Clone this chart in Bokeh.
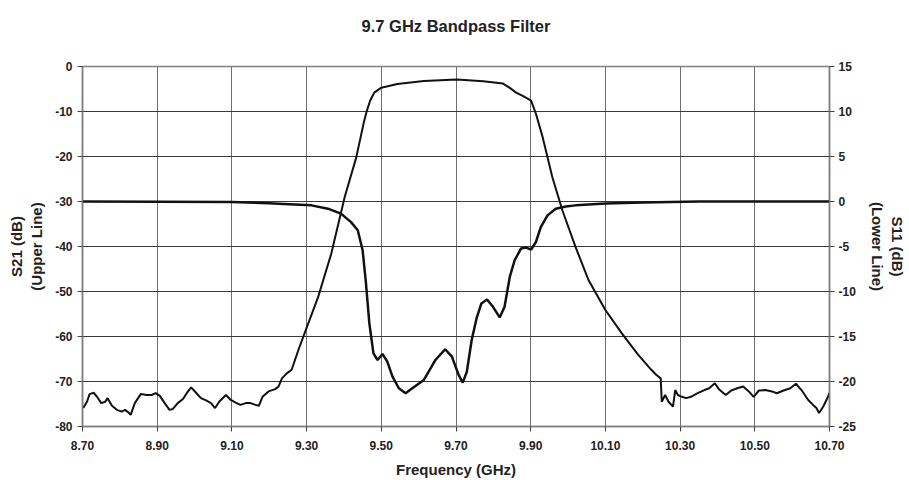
from bokeh.plotting import figure
from bokeh.models import Range1d, LinearAxis, FixedTicker, PrintfTickFormatter
from bokeh.embed import file_html
from bokeh.resources import INLINE

# ---------------- data ----------------
s21_freq = [8.702, 8.712, 8.719, 8.730, 8.739, 8.750, 8.761, 8.767, 8.779, 8.792,
            8.805, 8.814, 8.823, 8.829, 8.840, 8.856, 8.872, 8.885, 8.896, 8.907,
            8.920, 8.933, 8.942, 8.955, 8.969, 8.979, 8.991, 9.004, 9.017, 9.031,
            9.044, 9.055, 9.066, 9.084, 9.097, 9.110, 9.123, 9.137, 9.150, 9.163,
            9.172, 9.182, 9.198, 9.216, 9.225, 9.234, 9.247, 9.260, 9.278, 9.291,
            9.331, 9.366, 9.402, 9.433, 9.453, 9.460, 9.470, 9.481, 9.500, 9.543,
            9.614, 9.702, 9.773, 9.826, 9.845, 9.861, 9.880, 9.901, 9.914, 9.932,
            9.958, 9.985, 10.020, 10.055, 10.100, 10.144, 10.188, 10.223, 10.236, 10.248,
            10.251, 10.260, 10.269, 10.281, 10.287, 10.294, 10.305, 10.316, 10.329, 10.347,
            10.365, 10.378, 10.393, 10.404, 10.422, 10.437, 10.453, 10.469, 10.484, 10.497,
            10.511, 10.528, 10.546, 10.559, 10.577, 10.595, 10.610, 10.625, 10.643, 10.656,
            10.665, 10.672, 10.683, 10.696, 10.700]
s21_db = [-75.9, -74.5, -72.8, -72.5, -73.4, -74.8, -74.5, -73.7, -75.4, -76.3,
          -76.7, -76.3, -76.9, -77.4, -74.8, -72.8, -73.0, -73.0, -72.6, -73.2,
          -74.8, -76.3, -76.1, -74.8, -73.9, -72.6, -71.3, -72.5, -73.7, -74.2,
          -74.8, -75.9, -74.5, -73.0, -74.1, -74.7, -75.2, -74.8, -74.8, -75.2,
          -75.4, -73.4, -72.2, -71.7, -71.1, -69.3, -68.2, -67.4, -63.0, -60.1,
          -51.2, -41.6, -29.0, -20.2, -12.5, -10.2, -7.6, -5.8, -4.7, -3.9,
          -3.2, -2.9, -3.3, -3.8, -4.8, -5.8, -6.6, -7.6, -10.5, -15.7,
          -24.6, -32.0, -40.1, -47.5, -54.1, -59.3, -64.1, -67.4, -68.5, -69.3,
          -74.5, -73.0, -74.5, -75.6, -71.9, -73.0, -73.4, -73.7, -73.4, -72.6,
          -71.9, -71.5, -70.4, -71.7, -73.0, -72.0, -71.5, -71.1, -72.2, -73.4,
          -72.0, -71.9, -72.2, -72.6, -72.0, -71.5, -70.5, -71.9, -74.1, -75.2,
          -75.9, -77.0, -75.6, -73.4, -72.5]

s11_freq = [8.70, 8.90, 9.10, 9.20, 9.225, 9.313, 9.357, 9.392, 9.419, 9.437,
            9.450, 9.459, 9.468, 9.479, 9.490, 9.503, 9.516, 9.530, 9.547, 9.565,
            9.583, 9.614, 9.645, 9.671, 9.689, 9.707, 9.718, 9.729, 9.742, 9.755,
            9.768, 9.783, 9.799, 9.817, 9.830, 9.844, 9.857, 9.874, 9.888, 9.901,
            9.914, 9.927, 9.945, 9.967, 9.994, 10.020, 10.100, 10.200, 10.350, 10.700]
s11_db = [0.0, -0.02, -0.05, -0.2, -0.25, -0.43, -0.80, -1.35, -2.29, -3.2,
          -5.42, -9.11, -13.54, -16.87, -17.61, -16.94, -17.80, -19.46, -20.75, -21.30,
          -20.75, -19.83, -17.61, -16.42, -17.24, -19.27, -20.12, -18.91, -15.39, -12.99,
          -11.33, -10.88, -11.70, -12.88, -11.70, -8.38, -6.53, -5.23, -5.12, -5.34,
          -4.50, -2.84, -1.54, -0.80, -0.55, -0.43, -0.22, -0.1, 0.0, 0.0]

x_ticks = [8.70, 8.90, 9.10, 9.30, 9.50, 9.70, 9.90, 10.10, 10.30, 10.50, 10.70]
left_ticks = [-80, -70, -60, -50, -40, -30, -20, -10, 0]
right_ticks = [-25, -20, -15, -10, -5, 0, 5, 10, 15]
title_text = "9.7 GHz Bandpass Filter"

FONT = "Liberation Sans"
GRID = "#3a3a3a"
AXIS = "#808080"

p = figure(width=909, height=480, output_backend="svg", toolbar_location=None,
           x_range=Range1d(8.70, 10.70), y_range=Range1d(-80, 0),
           min_border_left=82, min_border_right=72, min_border_top=66, min_border_bottom=53)
p.extra_y_ranges = {"s11": Range1d(-25, 15)}
p.background_fill_color = "white"
p.border_fill_color = "white"
p.outline_line_color = AXIS
p.outline_line_width = 1.5

# title drawn as the label of an empty top axis (allows exact placement)
top = LinearAxis(ticker=FixedTicker(ticks=[]), axis_label=title_text,
                 axis_line_color=None, major_tick_line_color=None,
                 minor_tick_line_color=None, major_label_text_alpha=0,
                 axis_label_standoff=32, axis_label_text_font=FONT,
                 axis_label_text_font_style="bold", axis_label_text_font_size="16.5px",
                 axis_label_text_color="#222222")
p.add_layout(top, "above")

xax = p.below[0]
p.yaxis.ticker = FixedTicker(ticks=left_ticks)
p.yaxis.formatter = PrintfTickFormatter(format="%d")

right = LinearAxis(y_range_name="s11", ticker=FixedTicker(ticks=right_ticks),
                   formatter=PrintfTickFormatter(format="%d"))
p.add_layout(right, "right")

for ax in [xax, p.yaxis[0], right]:
    ax.major_label_text_font = FONT
    ax.major_label_text_font_style = "bold"
    ax.major_label_text_font_size = "12px"
    ax.major_label_text_color = "#222222"
    ax.axis_label_text_font = FONT
    ax.axis_label_text_font_style = "bold"
    ax.axis_label_text_font_size = "15px"
    ax.axis_label_text_color = "#222222"
    ax.axis_line_color = AXIS
    ax.axis_line_width = 1.5
    ax.major_tick_line_color = "#444444"
    ax.major_tick_in = 0
    ax.major_tick_out = 5
    ax.minor_tick_line_color = None

xax.ticker = FixedTicker(ticks=x_ticks)
xax.formatter = PrintfTickFormatter(format="%.2f")
xax.axis_label = "Frequency (GHz)"
xax.major_label_standoff = 9
xax.axis_label_standoff = 8
p.yaxis.axis_label = "S21 (dB)\n(Upper Line)"
p.yaxis.major_label_standoff = 5
p.yaxis.axis_label_standoff = 7
right.axis_label = "S11 (dB)\n(Lower Line)"
right.major_label_standoff = 4
right.axis_label_standoff = 10

p.xgrid.ticker = FixedTicker(ticks=x_ticks)
p.ygrid.ticker = FixedTicker(ticks=left_ticks)
p.xgrid.grid_line_color = "#707070"
p.ygrid.grid_line_color = GRID
p.xgrid.grid_line_width = 1
p.ygrid.grid_line_width = 1

p.line(s21_freq, s21_db, line_color="#111111", line_width=2)
p.line(s11_freq, s11_db, line_color="#111111", line_width=2.5, y_range_name="s11")

open("out.html", "w").write(file_html(p, INLINE))
